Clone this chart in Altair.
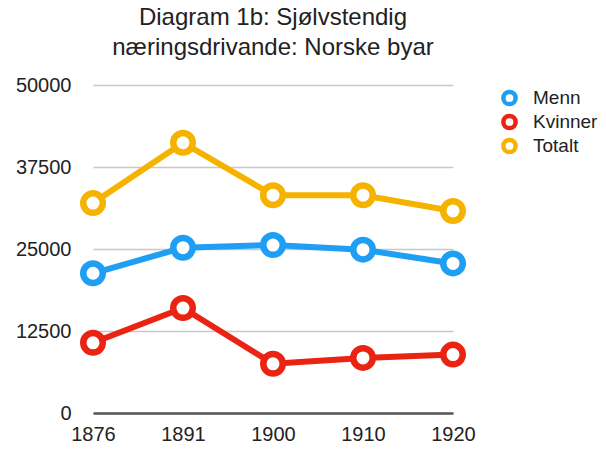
import altair as alt
import pandas as pd

years = ["1876", "1891", "1900", "1910", "1920"]
series = ["Menn", "Kvinner", "Totalt"]
menn = [21300, 25200, 25600, 24900, 22800]
kvinner = [10700, 16000, 7500, 8400, 8900]
totalt = [32000, 41200, 33200, 33200, 30800]
colors = ["#1f9ff3", "#ea2312", "#f5b300"]
y_ticks = [0, 12500, 25000, 37500, 50000]

rows = []
for name, vals in zip(series, [menn, kvinner, totalt]):
    for yr, v in zip(years, vals):
        rows.append({"year": yr, "serie": name, "value": v})
df = pd.DataFrame(rows)

FONT = "Liberation Sans"

x = alt.X("year:O", scale=alt.Scale(type="point", padding=0, domain=years),
          axis=alt.Axis(title=None, labelAngle=0, ticks=False, grid=False,
                        domainColor="#555555", domainWidth=2.5,
                        labelFontSize=20, labelPadding=11, labelColor="#222222",
                        labelFont=FONT))
y = alt.Y("value:Q", scale=alt.Scale(domain=[0, 50000], nice=False),
          axis=alt.Axis(title=None, values=y_ticks, ticks=False, domain=False,
                        grid=True, gridColor="#c8c8c8", gridWidth=1.5,
                        labelFontSize=20, labelPadding=22, labelColor="#222222",
                        labelFont=FONT, format="d"))
color_scale = alt.Scale(domain=series, range=colors)
color = alt.Color("serie:N", scale=color_scale,
                  legend=alt.Legend(title=None, orient="none", legendX=407, legendY=3,
                                    symbolType="circle", symbolSize=150,
                                    symbolFillColor="white", symbolStrokeWidth=4.5,
                                    labelFontSize=19, labelFont=FONT, labelColor="#222222",
                                    labelOffset=14, rowPadding=4, padding=0, clipHeight=20))

base = alt.Chart(df)
lines = base.mark_line(strokeWidth=6).encode(x=x, y=y, color=color, detail="serie:N")
points = base.mark_point(filled=True, fill="white", size=380, strokeWidth=6.5, opacity=1).encode(
    x=x, y=y, stroke=alt.Stroke("serie:N", scale=color_scale, legend=None))

chart = alt.layer(lines, points).properties(
    width=360, height=328,
    title=alt.TitleParams(text=["Diagram 1b: Sjølvstendig", "næringsdrivande: Norske byar"],
                          fontSize=24, font=FONT, fontWeight="normal", color="#222222",
                          anchor="middle", lineHeight=30, offset=15),
    autosize=alt.AutoSizeParams(type="none"),
    padding={"left": 85, "top": 77, "right": 145, "bottom": 30},
).configure_view(stroke=None)

chart.save("out.html", embed_options={"renderer": "svg", "actions": False})
